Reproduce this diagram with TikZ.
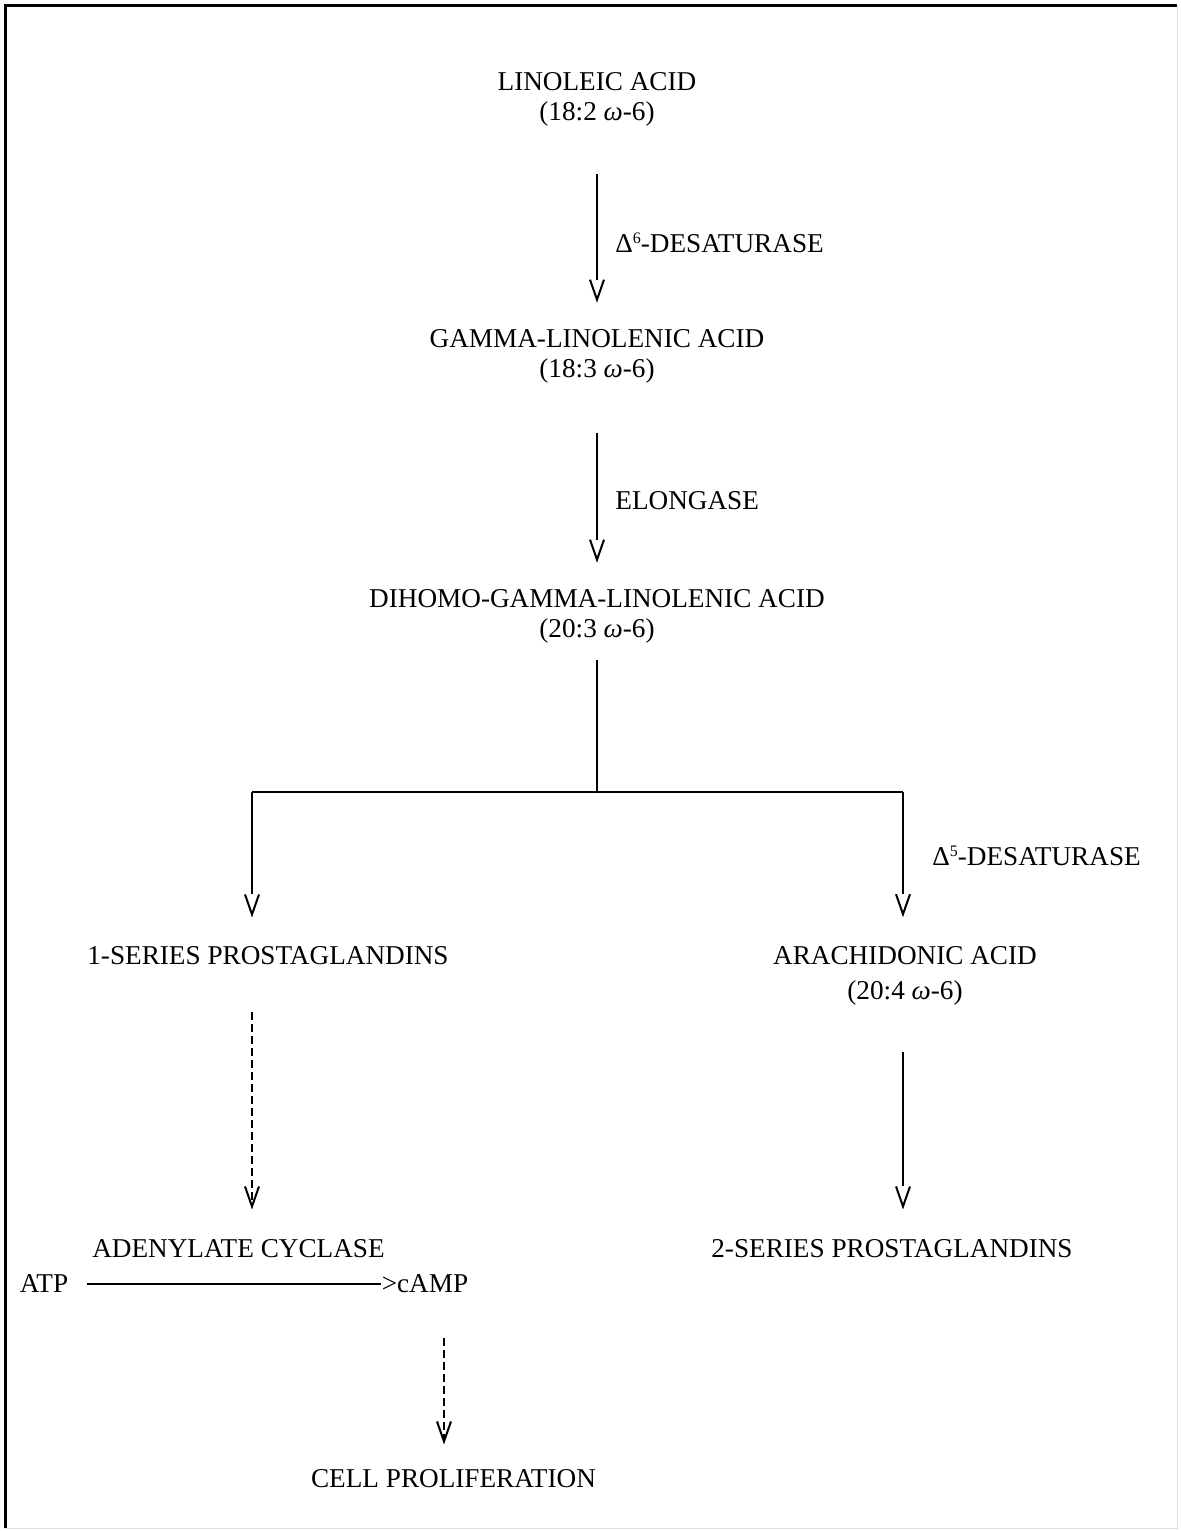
\documentclass[tikz,border=0pt]{standalone}
\usepackage{fontspec}
\setmainfont{Liberation Serif}
\usetikzlibrary{arrows.meta}
\newcommand{\supnum}[1]{\raisebox{0.75ex}{\fontsize{8}{8}\selectfont #1}}
\tikzset{
	chem/.style={font=\fontsize{13.6}{15}\selectfont, inner sep=0pt, align=center},
	solidline/.style={line width=1pt},
	% open V with a small gap before it
	flow/.style={line width=1pt, shorten >=#1, dash pattern=on 0pt off 2000pt,
		-{Straight Barb[length=10pt, width=7pt, line width=1pt]},
		preaction={draw, solid, -, line width=1pt, shorten >=#1+11.5pt}},
	dflow/.style={line width=1pt, dash pattern=on 4pt off 2pt, -{Straight Barb[length=10pt, width=7pt, line width=1pt]}},
}

\begin{document}
\begin{tikzpicture}[x=0.5pt, y=-0.5pt]
		%%%%% START %%%%%
		\useasboundingbox (0, 0) rectangle (1181, 1531);
		
		% frame
		\draw[line width=1.5pt] (5, 1528) -- (5, 5) -- (1177, 5);
		\draw[line width=0.4pt, color=black!12] (1177, 5) -- (1177, 1528) -- (5, 1528);
		
		\node[chem] (lin) at (597, 99.5) {LINOLEIC ACID\\(18:2 \textit{ω}-6)};
		\node[chem] (gla) at (597, 356) {GAMMA-LINOLENIC ACID\\(18:3 \textit{ω}-6)};
		\node[chem] (dgla) at (597, 616) {DIHOMO-GAMMA-LINOLENIC ACID\\(20:3 \textit{ω}-6)};
		\node[chem] (pgone) at (268, 956) {1-SERIES PROSTAGLANDINS};
		\node[chem] (ara) at (905, 976) {ARACHIDONIC ACID\\[2.5pt](20:4 \textit{ω}-6)};
		\node[chem] (adc) at (238.5, 1249) {ADENYLATE CYCLASE};
		\node[chem] (pgtwo) at (892, 1249) {2-SERIES PROSTAGLANDINS};
		\node[chem] (atp) at (44, 1284) {ATP};
		\node[chem] (camp) at (425, 1284) {{>}cAMP};
		\node[chem] (cell) at (453.5, 1479) {CELL PROLIFERATION};
		
		% enzymes
		\node[chem, anchor=west] (dsix) at (615, 243) {Δ\supnum{6}-DESATURASE};
		\node[chem, anchor=west] (elo) at (615, 501) {ELONGASE};
		\node[chem, anchor=west] (dfive) at (932, 856) {Δ\supnum{5}-DESATURASE};
		
		\coordinate (fork) at (597, 792);
		\coordinate (forkL) at (252, 792);
		\coordinate (forkR) at (903, 792);
		\coordinate (cdrop) at (444, 1338);
		
		\draw[flow=13pt, shorten <=23.5pt] (lin) -- (gla);
		\draw[flow=13pt, shorten <=25pt] (gla) -- (dgla);
		\draw[solidline, shorten <=8.5pt] (dgla.south) -- (fork);
		\draw[solidline] (forkL) -- (forkR);
		\draw[flow=14.5pt] (forkL) -- (forkL |- pgone.north);
		\draw[flow=14.5pt] (forkR) -- (forkR |- ara.north);
		
		\draw[dflow, shorten <=23pt, shorten >=15pt] (pgone.south -| forkL) -- (adc.north -| forkL);
		\draw[flow=15pt, shorten <=23pt] (ara.south -| forkR) -- (pgtwo.north -| forkR);
		
		\draw[solidline, shorten <=9pt] (atp) -- (camp);
		\draw[dflow, shorten >=12.5pt] (cdrop) -- (cdrop |- cell.north);
		
		%%%%% END %%%%%
	\end{tikzpicture}
\end{document}
